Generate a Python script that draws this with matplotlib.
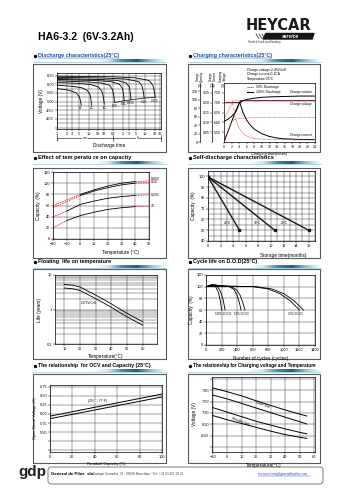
import numpy as np
import matplotlib.pyplot as plt
from matplotlib.patches import Rectangle, FancyBboxPatch, Polygon
from matplotlib.colors import LinearSegmentedColormap
from matplotlib.ticker import NullLocator, MultipleLocator, LogLocator, NullFormatter, FormatStrFormatter

plt.rcParams['font.family'] = ['Liberation Sans', 'DejaVu Sans']

# ---------------- data read from the sheet ----------------
# discharge characteristics (time in minutes, voltage V)
dis_rates = ["3C", "2C", "1C", "0.6C", "0.4C", "0.25C", "0.1C", "0.05C"]
dis_t = [
    [1, 2, 3, 4, 5, 5.5, 5.8],
    [1, 3, 6, 9, 11, 11.8, 12.2],
    [1, 5, 12, 20, 26, 29, 31],
    [1, 10, 25, 45, 56, 62, 65],
    [1, 15, 50, 90, 115, 125, 132],
    [1, 20, 80, 150, 190, 205, 215],
    [1, 30, 150, 380, 480, 530, 560],
    [1, 60, 300, 800, 1050, 1170, 1250],
]
dis_v = [
    [5.75, 5.68, 5.6, 5.5, 5.3, 5.05, 4.8],
    [5.95, 5.88, 5.8, 5.65, 5.4, 5.1, 4.8],
    [6.1, 6.05, 5.98, 5.85, 5.6, 5.25, 4.85],
    [6.2, 6.13, 6.07, 5.95, 5.7, 5.35, 4.95],
    [6.28, 6.22, 6.15, 6.02, 5.78, 5.45, 5.05],
    [6.33, 6.28, 6.22, 6.08, 5.85, 5.5, 5.1],
    [6.4, 6.36, 6.3, 6.15, 5.9, 5.55, 5.2],
    [6.47, 6.43, 6.37, 6.22, 5.95, 5.6, 5.25],
]
dis_xticks = [1, 2, 3, 5, 10, 20, 30, 60, 120, 180, 300, 600, 1200, 1800]
dis_xlabels = ["1", "2", "3", "5", "10", "20", "30", "60", "2", "3", "5", "10", "20", "30"]
dis_yticks = [3.5, 4.0, 4.5, 5.0, 5.5, 6.0, 6.5]
dis_ylabels = ["", "4.00", "4.50", "5.00", "5.50", "6.00", "6.50"]

# charging characteristics (hours)
chg_q_t = [0, 1, 2, 3, 4, 5, 6, 8, 10, 12, 16, 20, 24]
chg_q100 = [0, 24, 48, 72, 92, 98, 101, 104, 106, 107, 108, 109, 109]
chg_v_t = [0, 0.5, 1, 2, 3, 3.5, 4, 4.3, 24]
chg_v100 = [6.05, 6.1, 6.15, 6.3, 6.5, 6.7, 6.95, 7.1, 7.1]
chg_i_t = [0, 4.2, 5, 6, 7, 8, 10, 12, 14, 16, 20, 24]
chg_i100 = [0.2, 0.2, 0.15, 0.11, 0.085, 0.065, 0.042, 0.028, 0.02, 0.016, 0.013, 0.012]
chg_q50_t = [0, 0.5, 1, 1.5, 2, 2.5, 3, 4, 6, 10, 16, 24]
chg_q50 = [0, 12, 24, 36, 47, 52, 54, 56, 57, 58, 58, 58]
chg_v50_t = [0, 0.5, 1, 1.5, 2, 2.3, 24]
chg_v50 = [6.25, 6.38, 6.52, 6.7, 6.95, 7.1, 7.1]
chg_i50_t = [0, 2.2, 3, 4, 5, 6, 8, 10, 12, 16, 24]
chg_i50 = [0.2, 0.2, 0.12, 0.07, 0.045, 0.03, 0.018, 0.014, 0.012, 0.011, 0.011]

# temperature vs capacity
tc_temp = [-20, -10, 0, 10, 20, 30, 40, 50]
tc_rates = ["0.05C", "0.1C", "0.25C", "1C"]
tc_cap = [
    [60, 70, 80, 88, 95, 100, 103, 104],
    [56, 67, 78, 86, 92, 97, 100, 101],
    [40, 50, 62, 68, 73, 76, 78, 79],
    [20, 33, 42, 48, 53, 56, 58, 59],
]

# self discharge
sd_labels = ["40°C", "30°C", "20°C"]
sd_months = [[0, 5.0], [0, 10.6], [0, 16.0]]
sd_cap = [[99.5, 50], [99.5, 50], [99.5, 50]]

# floating life
fl_temp = [10, 15, 20, 25, 30, 35, 40, 45, 50, 55, 60]
fl_upper = [5.3, 5.1, 4.5, 3.4, 2.6, 1.95, 1.45, 1.05, 0.77, 0.58, 0.44]
fl_lower = [4.2, 4.0, 3.55, 2.7, 2.05, 1.55, 1.15, 0.83, 0.61, 0.46, 0.35]

# cycle life
cy_labels = ["100% D.O.D", "50% D.O.D", "30% D.O.D"]
cy_n = [
    [[0, 70, 120, 160, 185, 200], [0, 80, 140, 185, 220, 245]],
    [[0, 100, 300, 360, 400, 430, 450], [0, 100, 320, 390, 440, 475, 500]],
    [[0, 200, 600, 800, 950, 1080, 1200], [0, 200, 650, 850, 1000, 1130, 1250]],
]
cy_cap = [
    [[100, 103, 101, 90, 75, 60], [100, 104, 102, 92, 78, 60]],
    [[100, 103, 100, 95, 85, 72, 60], [100, 103, 100, 95, 85, 72, 60]],
    [[100, 101, 100, 96, 88, 76, 60], [100, 101, 100, 96, 88, 76, 60]],
]

# OCV vs residual capacity
ocv_cap = [0, 100]
ocv_upper = [5.94, 6.55]
ocv_lower = [5.87, 6.47]

# charging voltage vs temperature
cv_temp = [-10, 0, 10, 20, 30, 40, 50, 55]
cv_cycle_hi = [7.86, 7.76, 7.65, 7.52, 7.40, 7.28, 7.17, 7.12]
cv_cycle_lo = [7.67, 7.57, 7.45, 7.33, 7.21, 7.09, 6.97, 6.91]
cv_stby_hi = [7.34, 7.22, 7.10, 6.98, 6.88, 6.78, 6.69, 6.65]
cv_stby_lo = [7.13, 7.02, 6.92, 6.82, 6.72, 6.63, 6.56, 6.53]

# ---------------- page ----------------
W, H = 354, 500
fig = plt.figure(figsize=(3.54, 5.0), dpi=100)
bg = fig.add_axes([0, 0, 1, 1])
bg.axis('off')

RED = '#e0303a'
TS = 2.8   # tick label size
LS = 3.4   # axis label size


def axes_px(x0, y0, x1, y1):
    return fig.add_axes([x0 / W, 1 - y1 / H, (x1 - x0) / W, (y1 - y0) / H])


def style(ax, grid=True):
    ax.tick_params(which='both', labelsize=TS, length=1.2, width=0.35, pad=1)
    ax.tick_params(which='minor', length=0)
    for s in ax.spines.values():
        s.set_linewidth(0.5)
    if grid:
        ax.grid(True, which='both', color='#222222', lw=0.3)
        ax.set_axisbelow(True)


# panel frames
frames = [(33, 64, 166, 152), (188, 64, 320, 152),
          (33, 168, 166, 258), (188, 168, 320, 258),
          (33, 269, 166, 359), (188, 269, 320, 359),
          (33, 374, 166, 463), (188, 374, 320, 463)]
for x0, y0, x1, y1 in frames:
    bg.add_patch(Rectangle((x0, y0), x1 - x0, y1 - y0, fc='white', ec='#5a5a5a', lw=0.8))

hdr_cmap = LinearSegmentedColormap.from_list(
    'hdr', ['#ffffff', '#d6e9f0', '#3c8fae', '#17607c', '#8cc6da', '#ffffff'])
grad = hdr_cmap(np.linspace(0, 1, 200))[None, :, :]

headers = [("Discharge characteristics(25°C)", 38, 56, True, 3.9),
           ("Charging characteristics(25°C)", 193, 56, True, 3.9),
           ("Effect of tem peratu re on capacity", 38, 158, False, 4.1),
           ("Self-discharge characteristics", 193, 158, False, 4.1),
           ("Floating  life on temperature", 38, 262, False, 3.9),
           ("Cycle life on D.O.D(25°C)", 193, 262, False, 3.9),
           ("The relationship  for OCV and Capacity (25°C)", 38, 366, False, 3.7),
           ("The relationship for Charging voltage and Temperature", 193, 366, False, 3.3)]

renderer = fig.canvas.get_renderer()
bg.set_xlim(0, W)
bg.set_ylim(H, 0)
for text, x, y, blue, fs in headers:
    bg.plot(x - 3, y, 'o', ms=1.4, color='black')
    col = '#1d4f9e' if blue else 'black'
    t = bg.text(x, y, text, fontsize=fs, fontweight='bold', color=col,
                va='center', ha='left')
    if blue:
        bb = t.get_window_extent(renderer=renderer)
        bg.plot([x, bb.x1], [y + 2, y + 2], color=col, lw=0.35)
    bg.plot([x - 5, x + 128], [y + 5.5, y + 5.5], color='#7fb5c9', lw=0.4)
    bg.imshow(grad, extent=(x + 55, x + 128, y + 6.5, y + 4.2), aspect='auto',
              interpolation='bilinear', zorder=2)
bg.set_xlim(0, W)
bg.set_ylim(H, 0)

# title and logo
bg.text(38, 37, "HA6-3.2  (6V-3.2Ah)", fontsize=7.6, fontweight='bold', va='center')
bg.text(246, 33, "HEYCAR", fontsize=10.5, fontweight='bold', va='bottom', color='#1a1a1a',
        family='DejaVu Sans')
bg.add_patch(Polygon([(266, 33.5), (314, 33.5), (312, 39), (263, 39)], color='#151515'))
for k in range(4):
    bg.plot([256 + 3 * k, 259 + 3 * k], [34, 38.5], color='#151515', lw=0.5)
bg.text(290, 36.3, "service", fontsize=3.6, color='white', style='italic',
        fontweight='bold', ha='center', va='center')
bg.text(248, 42.5, "Sealed lead-acid battery", fontsize=2.2, va='center', color='#333333')

# footer
bg.text(18, 472, "gdp", fontsize=11, fontweight='bold', va='center', color='#222222')
bg.add_patch(FancyBboxPatch((48, 467), 275, 17, boxstyle='round,pad=0,rounding_size=3',
                            fc='none', ec='#666666', lw=0.6))
bg.text(51, 474, "General de Pilas  slu", fontsize=3.2, fontweight='bold', va='center')
bg.text(91, 474, "- Enrique Granados, 31 · 08008 Barcelona · Tel. +34 93 451 20 31",
        fontsize=2.5, va='center', family='Liberation Serif', color='#333333')
bg.text(258, 474, "servicioclients@generaldepilas.com", fontsize=2.5, va='center',
        family='Liberation Serif', color='#2a3cc8')
bg.plot([258, 310], [475.5, 475.5], color='#2a3cc8', lw=0.3)

# ---------------- 1: discharge characteristics ----------------
ax = axes_px(57, 73, 161, 129)
for t, v in zip(dis_t, dis_v):
    ax.plot(t, v, color='black', lw=0.6)
ends_t = [t[-1] for t in dis_t[3:]]
ends_v = [v[-1] for v in dis_v[3:]]
ax.plot(ends_t, ends_v, color='black', lw=0.5)
for name, t, v in zip(dis_rates, dis_t, dis_v):
    ax.text(t[-1], v[-1] - 0.08, name, fontsize=2.2, ha='center', va='top')
ax.set_xscale('log')
ax.set_xlim(1, 1900)
ax.set_ylim(3.42, 6.65)
ax.set_xticks(dis_xticks)
ax.set_xticklabels(dis_xlabels)
ax.xaxis.set_minor_locator(NullLocator())
ax.set_yticks(dis_yticks)
ax.set_yticklabels(dis_ylabels)
ax.yaxis.set_minor_locator(MultipleLocator(0.25))
style(ax)
ax.set_ylabel("Voltage (V)", fontsize=LS, labelpad=2)
tr = ax.get_xaxis_transform()
ax.plot([1, 1900], [-0.165, -0.165], color='black', lw=0.4, transform=tr, clip_on=False)
for xv in (1, 60, 1900):
    ax.plot([xv, xv], [-0.11, -0.22], color='black', lw=0.4, transform=tr, clip_on=False)
ax.text(7.7, -0.165, "min", fontsize=2.4, ha='center', va='center', transform=tr,
        bbox=dict(fc='white', ec='none', pad=0.2))
ax.text(340, -0.165, "h", fontsize=2.4, ha='center', va='center', transform=tr,
        bbox=dict(fc='white', ec='none', pad=0.2))
ax.text(0.5, -0.3, "Discharge time", fontsize=LS, ha='center', va='center',
        transform=ax.transAxes)

# ---------------- 2: charging characteristics ----------------
ax = axes_px(224, 83, 315, 142)
ax.set_xlim(0, 24)
ax.set_ylim(5.0, 8.0)
axq = ax.twinx()
axq.set_ylim(0, 140)
axi = ax.twinx()
axi.set_ylim(0, 0.30)
for a, off in ((axq, 17), (axi, 8.5)):
    a.yaxis.tick_left()
    a.spines['left'].set_visible(True)
    a.spines['left'].set_position(('outward', off))
    for s in ('right', 'top', 'bottom'):
        a.spines[s].set_visible(False)
    a.tick_params(labelsize=2.5, length=1.2, width=0.35, pad=0.8)
    a.spines['left'].set_linewidth(0.5)
axq.set_yticks([0, 20, 40, 60, 80, 100, 120])
axi.set_yticks([0.05, 0.10, 0.15, 0.20, 0.25])
axi.yaxis.set_major_formatter(FormatStrFormatter('%.2f'))
ax.set_yticks([5.5, 6.0, 6.5, 7.0, 7.5])
ax.yaxis.set_major_formatter(FormatStrFormatter('%.2f'))
ax.set_xticks(range(0, 25, 2))
style(ax, grid=False)
ax.tick_params(labelsize=2.5)
ax.plot(chg_v_t, chg_v100, color='black', lw=0.7)
axq.plot(chg_q_t, chg_q100, color='black', lw=0.7)
axi.plot(chg_i_t, chg_i100, color='black', lw=0.7)
ax.plot(chg_v50_t, chg_v50, color=RED, lw=0.5, ls=(0, (1, 0.8)))
axq.plot(chg_q50_t, chg_q50, color=RED, lw=0.5, ls=(0, (1, 0.8)))
axi.plot(chg_i50_t, chg_i50, color=RED, lw=0.5, ls=(0, (1, 0.8)))
ax.plot([0.25, 0.32], [0.93, 0.93], color='black', lw=0.5, ls=(0, (1.5, 1)),
        transform=ax.transAxes)
ax.plot([0.25, 0.32], [0.85, 0.85], color='black', lw=0.8, transform=ax.transAxes)
ax.text(0.35, 0.93, "50% Discharge", fontsize=2.4, va='center', transform=ax.transAxes)
ax.text(0.35, 0.85, "100% Discharge", fontsize=2.4, va='center', transform=ax.transAxes)
ax.text(0.72, 0.85, "Charge volume", fontsize=2.3, va='center', transform=ax.transAxes)
ax.text(0.72, 0.64, "Charge voltage", fontsize=2.3, va='center', transform=ax.transAxes)
ax.text(0.72, 0.12, "Charge current", fontsize=2.3, va='center', transform=ax.transAxes)
ax.text(0.5, -0.2, "Charging time(hours)", fontsize=2.8, ha='center', va='center',
        transform=ax.transAxes)
for txt, yy in (("Charge voltage:2.45V/cell", 70), ("Charge current:0.1CA", 74.5),
                ("Temperature:25°C", 79)):
    bg.text(247, yy, txt, fontsize=2.4, va='center')
for txt, unit, xx in (("Charge\nQuantity", "(%)", 200), ("Charge\nCurrent", "(CA)", 212.5),
                      ("Charging\nVoltage", "(V)", 223)):
    bg.text(xx, 76, txt, fontsize=2.1, rotation=90, ha='center', va='center',
            linespacing=1.0)
    bg.text(xx, 85.5, unit, fontsize=2.1, ha='center', va='center')

# ---------------- 3: temperature vs capacity ----------------
ax = axes_px(53, 172, 149, 239)
solid_from = [2, 2, 1, 1]
for name, cap, k in zip(tc_rates, tc_cap, solid_from):
    ax.plot(tc_temp[k:7], cap[k:7], color='black', lw=0.6)
    ax.plot(tc_temp[:k + 1], cap[:k + 1], color=RED, lw=0.6, ls=(0, (2, 1)))
    ax.plot(tc_temp[6:], cap[6:], color=RED, lw=0.6, ls=(0, (2, 1)))
for name, yy in zip(tc_rates, (108, 101.5, 79, 59)):
    ax.text(51.5, yy, name, fontsize=2.5, va='center', clip_on=False)
ax.set_xlim(-20, 50)
ax.set_ylim(0, 120)
ax.set_xticks(range(-20, 51, 10))
ax.set_yticks(range(0, 121, 20))
style(ax)
ax.set_ylabel("Capacity  (%)", fontsize=LS, labelpad=2)
ax.set_xlabel("Temperature (°C)", fontsize=LS, labelpad=2)
ax.xaxis.set_label_coords(0.7, -0.17)

# ---------------- 4: self discharge ----------------
ax = axes_px(208, 171, 315, 241)
for name, m, c in zip(sd_labels, sd_months, sd_cap):
    ax.plot(m, c, color='#1a1a1a', lw=1.0, marker='s', ms=1.6)
for name, xx in zip(sd_labels, (3.1, 7.9, 12.2)):
    ax.text(xx, 56.5, name, fontsize=2.3, ha='center', va='center')
ax.set_xlim(0, 17)
ax.set_ylim(40, 105)
ax.set_xticks(range(0, 17, 2))
ax.set_yticks(range(40, 101, 10))
ax.xaxis.set_minor_locator(MultipleLocator(1))
ax.yaxis.set_minor_locator(MultipleLocator(5))
style(ax)
ax.set_ylabel("Capacity  (%)", fontsize=LS, labelpad=2)
ax.set_xlabel("Storage time(months)", fontsize=LS, labelpad=2)
ax.xaxis.set_label_coords(0.7, -0.17)

# ---------------- 5: floating life ----------------
ax = axes_px(55, 275, 157, 344)
ax.plot(fl_temp, fl_upper, color='black', lw=0.6)
ax.plot(fl_temp, fl_lower, color='black', lw=0.6)
ax.text(20.5, 1.5, "2.275V/Cell", fontsize=2.2, va='center')
ax.set_yscale('log')
ax.set_ylim(0.1, 10)
ax.set_xlim(4, 69)
ax.set_xticks(range(10, 61, 10))
ax.set_yticks([0.1, 1, 10])
ax.set_yticklabels(["0.1", "1", "10"])
ax.yaxis.set_minor_locator(LogLocator(subs=range(2, 10)))
ax.yaxis.set_minor_formatter(NullFormatter())
style(ax)
ax.set_ylabel("Life (years)", fontsize=LS, labelpad=3)
ax.set_xlabel("Temperature(°C)", fontsize=LS, labelpad=2)

# ---------------- 6: cycle life ----------------
ax = axes_px(206, 275, 315, 345)
for name, ns, cs in zip(cy_labels, cy_n, cy_cap):
    for n, c in zip(ns, cs):
        ax.plot(n, c, color='black', lw=0.6)
for name, xx in zip(cy_labels, (225, 450, 1150)):
    ax.text(xx, 57, name, fontsize=2.1, ha='center', va='top')
ax.set_xlim(0, 1400)
ax.set_ylim(0, 120)
ax.set_xticks(range(0, 1401, 200))
ax.set_yticks(range(0, 121, 20))
style(ax)
ax.set_ylabel("Capacity  (%)", fontsize=LS, labelpad=2)
ax.set_xlabel("Number of cycles (cycles)", fontsize=LS, labelpad=3)

# ---------------- 7: OCV vs capacity ----------------
ax = axes_px(50, 385, 162, 452)
ax.plot(ocv_cap, ocv_upper, color='black', lw=0.7)
ax.plot(ocv_cap, ocv_lower, color='black', lw=0.7)
ax.text(42, 6.36, "(25°C, 77°F)", fontsize=2.4, ha='center', va='center',
        bbox=dict(fc='white', ec='none', pad=0.2))
ax.set_xlim(0, 100)
ax.set_ylim(4.95, 6.8)
ax.set_xticks(range(0, 101, 20))
ax.set_yticks([5.0, 5.25, 5.5, 5.75, 6.0, 6.25, 6.5, 6.75])
ax.set_yticklabels(["", "", "5.50", "5.75", "6.00", "6.25", "6.50", "6.75"])
style(ax)
ax.set_ylabel("Open Circuit Voltage (V)", fontsize=2.8, labelpad=2)
ax.set_xlabel("Residual Capacity (%)", fontsize=2.8, labelpad=2)

# ---------------- 8: charging voltage vs temperature ----------------
ax = axes_px(212, 377, 315, 452)
for v in (cv_cycle_hi, cv_cycle_lo, cv_stby_hi, cv_stby_lo):
    ax.plot(cv_temp, v, color='black', lw=0.7)
ax.text(24, 7.43, "Cycle Use", fontsize=2.3, ha='center', va='center', rotation=-20)
ax.text(9, 6.98, "Standby Use", fontsize=2.3, ha='center', va='center', rotation=-20)
ax.set_xlim(-10.7, 60.7)
ax.set_ylim(6.17, 8.15)
ax.set_xticks(range(-10, 61, 10))
ax.set_yticks([6.3, 6.6, 6.9, 7.2, 7.5, 7.8, 8.1])
ax.set_yticklabels(["", "6.60", "6.90", "7.20", "7.50", "7.80", ""])
style(ax)
ax.set_ylabel("Voltage (V)", fontsize=LS, labelpad=3)
ax.set_xlabel("Temperature(°C)", fontsize=LS, labelpad=3)

fig.savefig("out.png", dpi=100)
